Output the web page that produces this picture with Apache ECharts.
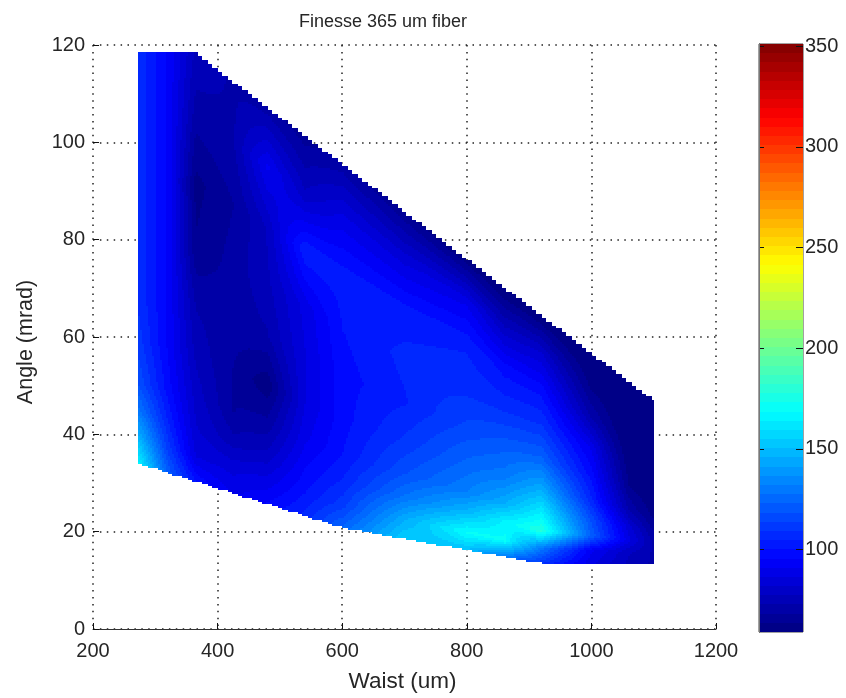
<!DOCTYPE html>
<html>
<head>
<meta charset="utf-8">
<title>Finesse 365 um fiber</title>
<script src="https://cdn.jsdelivr.net/npm/echarts@6/dist/echarts.min.js"></script>
<style>
    html, body { margin: 0; padding: 0; background: #fff; }
    #main { width: 846px; height: 698px; }
</style>
</head>
<body>
<div id="main"></div>
<script>
var FONT = '"Liberation Sans", Arial, sans-serif';
var TEXT = '#262626';

// waist (um) of the mesh columns
var waists = [271, 320, 365, 425, 480, 540, 600, 700, 800, 860, 920, 1000, 1060, 1099];
// height of a node inside its column, 0 = lower edge, 1 = upper edge
var rows = [0, 0.06, 0.13, 0.2, 0.3, 0.42, 0.55, 0.7, 0.85, 1];
// finesse, one list per waist, lower edge first
var finesse = [
    [168, 150, 130, 118, 112, 108, 108, 108, 108, 108],
    [122, 112, 104, 98, 95, 95, 95, 95, 95, 95],
    [100, 86, 82, 80, 76, 72, 64, 62, 70, 76],
    [90, 85, 74, 68, 68, 70, 70, 68, 72, 72],
    [96, 88, 78, 70, 60, 72, 76, 78, 92, 70],
    [106, 100, 95, 90, 86, 86, 88, 104, 78, 66],
    [124, 112, 105, 100, 98, 98, 100, 102, 88, 70],
    [155, 145, 128, 118, 110, 104, 106, 102, 85, 64],
    [150, 170, 148, 132, 124, 115, 108, 104, 90, 60],
    [130, 170, 165, 145, 130, 120, 108, 98, 78, 58],
    [110, 130, 178, 165, 145, 124, 110, 98, 82, 58],
    [88, 92, 122, 118, 106, 98, 90, 72, 62, 58],
    [76, 78, 88, 84, 72, 64, 60, 58, 58, 58],
    [72, 72, 72, 68, 62, 59, 59, 59, 59, 59]
];
// outline of the measured region
var lowerWaist = [273, 600, 920, 1099];
var lowerAngle = [34, 20.8, 13.5, 13.5];
var upperWaist = [273, 364, 1099];
var upperAngle = [118.4, 118.4, 47];

var xTicks = [200, 400, 600, 800, 1000, 1200];
var yTicks = [0, 20, 40, 60, 80, 100, 120];
var barTicks = [100, 150, 200, 250, 300, 350];
var barMin = 59;
var barMax = 351;
var barLevels = 64;

var SAMPLE = 2;      // px, size of one shaded block
var EDGE_STEP = 8;   // um, the outline of the original mesh is stepped

function clamp01(v) {
    return Math.max(0, Math.min(1, v));
}

function jet(level) {  // same 64 steps as the colorbar
    var t = (level + 0.5) / barLevels;
    var r = clamp01(1.5 - Math.abs(4 * t - 3));
    var g = clamp01(1.5 - Math.abs(4 * t - 2));
    var b = clamp01(1.5 - Math.abs(4 * t - 1));
    return 'rgb(' + Math.round(r * 255) + ',' + Math.round(g * 255) + ',' + Math.round(b * 255) + ')';
}

function levelOf(v) {
    var k = Math.floor((v - barMin) / (barMax - barMin) * barLevels);
    return Math.max(0, Math.min(barLevels - 1, k));
}

function edge(xs, ys, x) {
    for (var n = 0; n < xs.length - 1; n++) {
        if (x <= xs[n + 1]) {
            return ys[n] + (ys[n + 1] - ys[n]) * (x - xs[n]) / (xs[n + 1] - xs[n]);
        }
    }
    return ys[ys.length - 1];
}

// one mesh cell, shaded like "shading interp" between its four nodes
function renderCell(params, api) {
    var j = api.value(0);
    var i = api.value(1);
    var origin = api.coord([waists[j], 0]);
    var xEnd = api.coord([waists[j + 1], 0])[0];
    var yTop = api.coord([0, 120])[1];
    var perPxX = (waists[j + 1] - waists[j]) / (xEnd - origin[0]);
    var perPxY = 120 / (origin[1] - yTop);
    var children = [];

    for (var px = Math.ceil(origin[0] / SAMPLE) * SAMPLE; px < xEnd; px += SAMPLE) {
        var w = waists[j] + (px + SAMPLE / 2 - origin[0]) * perPxX;
        var low = edge(lowerWaist, lowerAngle, w);
        var up = edge(upperWaist, upperAngle, w);
        var stepped = Math.floor(w / EDGE_STEP) * EDGE_STEP + EDGE_STEP / 2;
        var lowStep = edge(lowerWaist, lowerAngle, stepped);
        var upStep = edge(upperWaist, upperAngle, stepped);
        var u = (w - waists[j]) / (waists[j + 1] - waists[j]);
        var runStart = null;
        var runLevel = -1;

        for (var py = Math.floor(yTop / SAMPLE) * SAMPLE; py < origin[1] + SAMPLE; py += SAMPLE) {
            var angle = (origin[1] - py - SAMPLE / 2) * perPxY;
            var level = -1;
            if (angle >= lowStep && angle <= upStep) {
                var s = clamp01((angle - low) / (up - low));
                if (s >= rows[i] && (s < rows[i + 1] || i === rows.length - 2)) {
                    var r = (s - rows[i]) / (rows[i + 1] - rows[i]);
                    var a = finesse[j][i] + (finesse[j][i + 1] - finesse[j][i]) * r;
                    var b = finesse[j + 1][i] + (finesse[j + 1][i + 1] - finesse[j + 1][i]) * r;
                    level = levelOf(a + (b - a) * u);
                }
            }
            if (level !== runLevel) {
                if (runLevel >= 0) {
                    children.push({
                        type: 'rect',
                        shape: { x: px, y: runStart, width: SAMPLE, height: py - runStart },
                        style: { fill: jet(runLevel) }
                    });
                }
                runStart = py;
                runLevel = level;
            }
        }
    }
    return { type: 'group', children: children };
}

function renderLevel(params, api) {
    var a = api.coord([0, api.value(0)]);
    var b = api.coord([1, api.value(1)]);
    return {
        type: 'rect',
        shape: { x: a[0], y: Math.round(b[1]), width: b[0] - a[0], height: Math.round(a[1]) - Math.round(b[1]) },
        style: { fill: jet(api.value(2)) }
    };
}

// colorbar ticks sit on top of the colours, on both sides
function renderBarTick(params, api) {
    var a = api.coord([0, api.value(0)]);
    var b = api.coord([1, api.value(0)]);
    var y = Math.round(a[1]);
    return {
        type: 'group',
        children: [
            { type: 'rect', shape: { x: a[0], y: y, width: 5, height: 1 }, style: { fill: '#111' } },
            { type: 'rect', shape: { x: b[0] - 7, y: y, width: 7, height: 1 }, style: { fill: '#111' } }
        ]
    };
}

var cells = [];
for (var j = 0; j < waists.length - 1; j++) {
    for (var i = 0; i < rows.length - 1; i++) {
        cells.push([j, i]);
    }
}

var barData = [];
for (var k = 0; k < barLevels; k++) {
    var step = (barMax - barMin) / barLevels;
    barData.push([barMin + k * step, barMin + (k + 1) * step, k]);
}

function plain(v) {  // no thousands separator
    return String(v);
}

var gridDots = { show: true, lineStyle: { color: '#222', width: 1.5, type: [1.5, 5.4] } };

var myChart = echarts.init(document.getElementById('main'), null, { renderer: 'canvas' });
myChart.setOption({
    animation: false,
    backgroundColor: '#fff',
    title: {
        text: 'Finesse 365 um fiber',
        left: 378, top: 8, textAlign: 'center',
        textStyle: { color: TEXT, fontFamily: FONT, fontSize: 18, fontWeight: 'normal' }
    },
    grid: [
        { left: 93, top: 45, width: 623, height: 585, containLabel: false },
        { left: 759, top: 44, width: 44, height: 588, show: true, borderColor: '#444', borderWidth: 1 }
    ],
    xAxis: [
        {
            type: 'value', gridIndex: 0, min: 200, max: 1200, interval: 200,
            name: 'Waist (um)', nameLocation: 'middle', nameGap: 41,
            nameTextStyle: { color: TEXT, fontFamily: FONT, fontSize: 22.5, padding: [0, 4, 0, 0] },
            axisLine: { show: true, lineStyle: { color: '#333', width: 1 } },
            axisTick: { show: true, inside: true, length: 6, lineStyle: { color: '#111' }, customValues: xTicks },
            axisLabel: { show: true, margin: 12, color: TEXT, fontFamily: FONT, fontSize: 20, customValues: xTicks, formatter: plain },
            splitLine: gridDots
        },
        { type: 'value', gridIndex: 1, min: 0, max: 1, show: false }
    ],
    yAxis: [
        {
            type: 'value', gridIndex: 0, min: 0, max: 120, interval: 20,
            name: 'Angle (mrad)', nameLocation: 'middle', nameGap: 56,
            nameTextStyle: { color: TEXT, fontFamily: FONT, fontSize: 21.5, padding: [0, 10, 0, 0] },
            axisLine: { show: false },
            axisTick: { show: true, inside: true, length: 6, lineStyle: { color: '#111' }, customValues: yTicks },
            axisLabel: { show: true, margin: 8, padding: [4, 0, 0, 0], color: TEXT, fontFamily: FONT, fontSize: 20, customValues: yTicks, formatter: plain },
            splitLine: gridDots
        },
        {
            type: 'value', gridIndex: 1, position: 'right', min: barMin, max: barMax, z: 10,
            axisLine: { show: true, lineStyle: { color: '#333' } },
            axisTick: { show: false },
            axisLabel: { show: true, margin: 2, padding: [4, 0, 0, 0], color: TEXT, fontFamily: FONT, fontSize: 20, customValues: barTicks, formatter: plain },
            splitLine: { show: false }
        },
        {
            type: 'value', gridIndex: 1, position: 'left', min: barMin, max: barMax, z: 10,
            axisLine: { show: true, lineStyle: { color: '#777' } },
            axisTick: { show: false },
            axisLabel: { show: false },
            splitLine: { show: false }
        }
    ],
    series: [
        {
            type: 'custom', xAxisIndex: 0, yAxisIndex: 0, silent: true, clip: true,
            progressive: 0, renderItem: renderCell, data: cells,
            encode: { x: [], y: [] }
        },
        {
            type: 'custom', xAxisIndex: 1, yAxisIndex: 1, silent: true,
            progressive: 0, renderItem: renderLevel, data: barData,
            encode: { x: [], y: [0, 1] }
        },
        {
            type: 'custom', xAxisIndex: 1, yAxisIndex: 1, silent: true, z: 5,
            progressive: 0, renderItem: renderBarTick, data: barTicks,
            encode: { x: [], y: [0] }
        }
    ]
});
</script>
</body>
</html>
